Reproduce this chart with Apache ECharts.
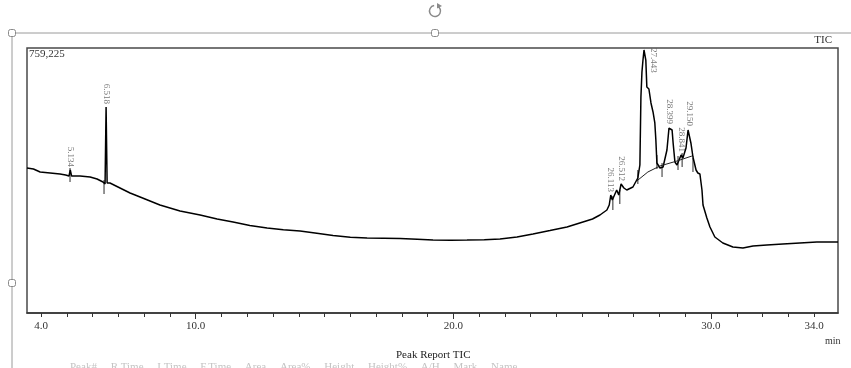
<!DOCTYPE html>
<html>
<head>
<meta charset="utf-8">
<script src="https://cdn.jsdelivr.net/npm/echarts@6/dist/echarts.min.js"></script>
<style>
  html, body { margin: 0; padding: 0; background: #fff; }
  #chart { width: 851px; height: 368px; }
</style>
</head>
<body>
<div id="chart"></div>
<script>
// ---- Data (retention time in min, intensity in counts) ----
var times = [3.45, 3.7, 3.96, 4.35, 4.73, 4.95, 5.08, 5.13, 5.18, 5.51, 5.9, 6.17, 6.4, 6.48, 6.52, 6.56, 6.67,
  7.06, 7.45, 7.84, 8.61, 9.39, 10.17, 10.83, 11.45, 12.1, 12.77, 13.4, 14.05, 14.7, 15.33, 16.0, 16.65, 17.3,
  17.93, 18.6, 19.21, 19.9, 20.53, 21.2, 21.81,
  22.47, 23.09, 23.75, 24.41, 25.03, 25.4, 25.69, 25.96, 26.05, 26.11, 26.17, 26.34, 26.42, 26.51, 26.62, 26.73, 26.97,
  27.16, 27.24, 27.28, 27.32, 27.36, 27.40, 27.44, 27.47, 27.51, 27.59, 27.67, 27.75, 27.82, 27.86, 27.90,
  28.02, 28.14, 28.29, 28.37, 28.40, 28.49, 28.53, 28.60, 28.68, 28.76, 28.84, 28.91, 29.03, 29.11, 29.15,
  29.22, 29.30, 29.42, 29.49, 29.57, 29.65, 29.69, 29.84, 29.96, 30.15, 30.46, 30.85, 31.24, 31.63, 32.17,
  32.79, 33.45, 34.11, 34.93];
var intensities = [415400, 412600, 404000, 401100, 398200, 395400, 392500, 409700, 392500, 392500, 389600,
  383900, 375300, 369600, 590200, 372400, 372400,
  358100, 343800, 332300, 309400, 292200, 280800, 269300, 260700, 250800, 243500, 238400, 234900, 228700,
  221800, 217100, 214900, 214300,
  213700, 211400, 209100, 208300, 209100, 210200, 212000,
  217700, 226300, 236100, 246400, 260700, 269300, 280800, 295100, 309400, 338100, 323700, 352400, 338100,
  369600, 358100, 352400, 361000,
  386800, 424000, 618800, 690500, 724800, 753500, 759225, 724800, 647500, 641800, 601700, 575900, 544400,
  495600, 429800,
  415400, 418300, 467000, 530000, 532900, 524300, 487100, 432600, 424000, 438300, 452700, 444100, 472700,
  524300, 527200,
  487100, 446900, 409700, 401100, 398200, 352400, 309400, 272200, 246400, 217700, 200600, 189100, 186200,
  192000, 194800,
  197700, 200600, 203400, 203400];

// Peak labels (retention times) and apex intensities
var peakLabels = ["5.134", "6.518", "26.113", "26.512", "27.443", "28.399", "28.841", "29.150"];
var peakTimes = [5.134, 6.518, 26.113, 26.512, 27.443, 28.399, 28.841, 29.150];
var peakValues = [409700, 590200, 338100, 369600, 759225, 532900, 452700, 527200];

// Peak start/end markers
var markerTimes = [5.12, 6.44, 26.19, 26.46, 27.16, 27.90, 28.10, 28.72, 28.88, 29.30];
var markerValues = [395400, 361000, 315200, 332300, 389600, 432600, 409700, 429800, 438300, 424000];

// Integration baseline under the late peaks
var baseTimes = [27.12, 27.55, 28.02, 28.68, 29.26];
var baseValues = [378200, 404000, 421200, 435500, 449800];

// Axis
var xMin = 3.45, xMax = 34.93, yMax = 759225;
var minorTicks = [4, 5, 6, 7, 8, 9, 10, 11, 12, 13, 14, 15, 16, 17, 18, 19, 20, 21, 22, 23, 24, 25, 26, 27,
  28, 29, 30, 31, 32, 33, 34];
var majorTicks = [10, 20, 30];
var tickLabels = [4, 10, 20, 30, 34];

var SERIF = '"Liberation Serif", "DejaVu Serif", serif';

function zip(a, b) { return a.map(function (v, i) { return [v, b[i]]; }); }

var peakData = peakTimes.map(function (t, i) {
  var item = { value: [t, peakValues[i]], name: peakLabels[i] };
  if (peakLabels[i] === "27.443") {
    item.label = { position: 'right', distance: 10, align: 'left', verticalAlign: 'middle', offset: [0, 2] };
  }
  return item;
});

var chart = echarts.init(document.getElementById('chart'), null, { renderer: 'canvas' });
chart.setOption({
  animation: false,
  backgroundColor: '#ffffff',
  grid: {
    left: 27, right: 13, top: 48, bottom: 55,
    show: true, borderColor: '#4a4a4a', borderWidth: 1.5, backgroundColor: 'transparent'
  },
  xAxis: [{
    type: 'value', min: xMin, max: xMax,
    axisLine: { show: true, lineStyle: { color: '#333', width: 1.5 } },
    axisTick: { show: true, customValues: minorTicks, length: 4, lineStyle: { color: '#333', width: 1 } },
    axisLabel: {
      show: true, customValues: tickLabels, margin: 8,
      formatter: function (v) { return v.toFixed(1); },
      fontFamily: SERIF, fontSize: 11, color: '#333'
    },
    splitLine: { show: false }
  }, {
    type: 'value', min: xMin, max: xMax, position: 'bottom',
    axisLine: { show: false },
    axisTick: { show: true, customValues: majorTicks, length: 6, lineStyle: { color: '#333', width: 1 } },
    axisLabel: { show: false },
    splitLine: { show: false }
  }],
  yAxis: {
    type: 'value', min: 0, max: yMax,
    axisLine: { show: false }, axisTick: { show: false }, axisLabel: { show: false },
    splitLine: { show: false }
  },
  series: [{
    type: 'line', name: 'TIC', data: zip(times, intensities),
    showSymbol: false, symbol: 'none', clip: true,
    lineStyle: { color: '#000', width: 1.5 }
  }, {
    type: 'line', name: 'baseline', data: zip(baseTimes, baseValues),
    showSymbol: false, symbol: 'none',
    lineStyle: { color: '#222', width: 1 }
  }, {
    type: 'scatter', name: 'markers', data: zip(markerTimes, markerValues),
    symbol: 'rect', symbolSize: [1.2, 14],
    itemStyle: { color: '#222' }
  }, {
    type: 'scatter', name: 'peaks', data: peakData,
    symbolSize: 0.1, itemStyle: { color: 'transparent' },
    label: {
      show: true, position: 'top', distance: 3, rotate: -90,
      align: 'right', verticalAlign: 'middle',
      formatter: function (p) { return p.name; },
      fontFamily: SERIF, fontSize: 9, color: '#555'
    }
  }],
  graphic: [
    { type: 'line', shape: { x1: 12, y1: 33, x2: 851, y2: 33 }, style: { stroke: '#9a9a9a', lineWidth: 1 }, silent: true },
    { type: 'line', shape: { x1: 12, y1: 33, x2: 12, y2: 368 }, style: { stroke: '#9a9a9a', lineWidth: 1 }, silent: true },
    { type: 'rect', shape: { x: 8.5, y: 29.5, width: 7, height: 7, r: 2 }, style: { fill: '#fff', stroke: '#8a8a8a', lineWidth: 1 }, silent: true },
    { type: 'rect', shape: { x: 431.5, y: 29.5, width: 7, height: 7, r: 2 }, style: { fill: '#fff', stroke: '#8a8a8a', lineWidth: 1 }, silent: true },
    { type: 'rect', shape: { x: 8.5, y: 279.5, width: 7, height: 7, r: 2 }, style: { fill: '#fff', stroke: '#8a8a8a', lineWidth: 1 }, silent: true },
    { type: 'arc', shape: { cx: 435, cy: 11, r: 5.5, startAngle: -Math.PI * 0.35, endAngle: Math.PI * 1.45 }, style: { stroke: '#8a8a8a', lineWidth: 1.5, fill: null }, silent: true },
    { type: 'polygon', shape: { points: [[437, 3], [442, 6], [437, 8.5]] }, style: { fill: '#8a8a8a' }, silent: true },
    { type: 'text', left: 29, top: 49, style: { text: '759,225', font: '11px ' + SERIF, fill: '#333' }, silent: true },
    { type: 'text', right: 19, top: 35, style: { text: 'TIC', font: '11px ' + SERIF, fill: '#333' }, silent: true },
    { type: 'text', left: 825, top: 336, style: { text: 'min', font: '10px ' + SERIF, fill: '#333' }, silent: true },
    { type: 'text', left: 396, top: 350, style: { text: 'Peak Report TIC', font: '11px ' + SERIF, fill: '#222' }, silent: true },
    { type: 'text', left: 70, top: 362, style: { text: 'Peak#     R.Time     I.Time     F.Time     Area     Area%     Height     Height%     A/H     Mark     Name', font: '11px ' + SERIF, fill: '#c4c4c4' }, silent: true }
  ]
});
</script>
</body>
</html>
